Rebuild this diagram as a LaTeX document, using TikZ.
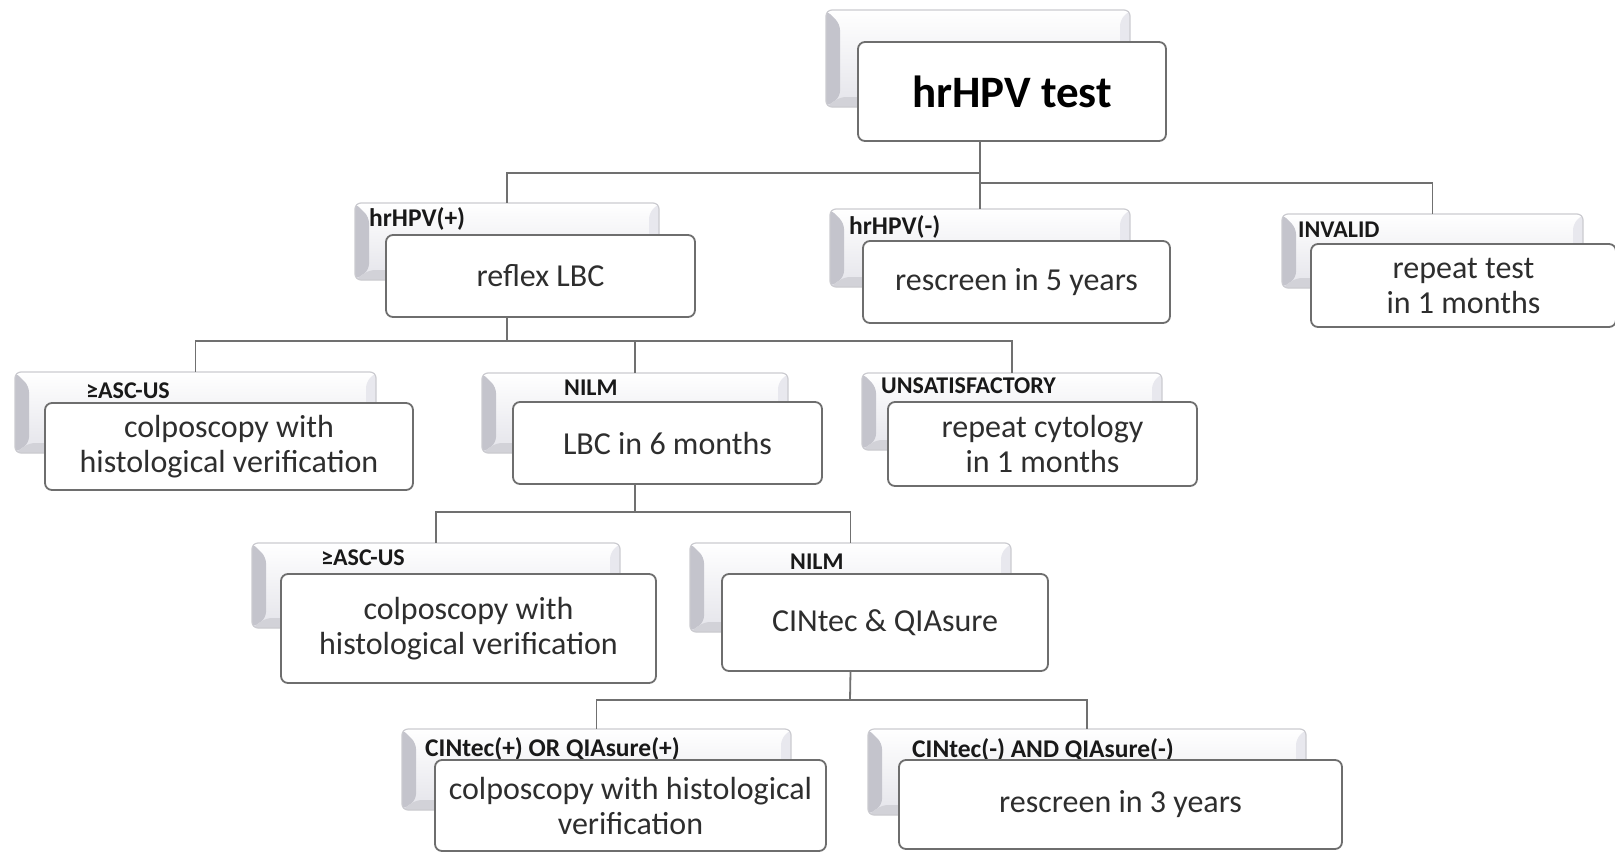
\documentclass[tikz,border=0pt]{standalone}
\usepackage{fontspec}
\setmainfont{Carlito}
\definecolor{linec}{HTML}{707070}
\definecolor{frontb}{HTML}{6E6E6E}
\definecolor{backb}{HTML}{CBCBD0}
\definecolor{backlo}{HTML}{E4E4EA}
\definecolor{bevL}{HTML}{C4C4CC}
\definecolor{bevB}{HTML}{D2D2D8}
\definecolor{bevR}{HTML}{E8E8EE}
\definecolor{txt}{HTML}{2E2E2E}
\tikzset{
 conn/.style={draw=linec, line width=1.8pt},
 backbox/.style={rectangle, rounded corners=6pt, draw=backb, line width=1.2pt,
   top color=white, bottom color=backlo, inner sep=0pt, outer sep=0pt,
   path picture={
     \fill[bevL] (path picture bounding box.north west)
        -- ([shift={(14pt,-14pt)}]path picture bounding box.north west)
        -- ([shift={(14pt,10pt)}]path picture bounding box.south west)
        -- (path picture bounding box.south west) -- cycle;
     \fill[bevB] (path picture bounding box.south west)
        -- ([shift={(14pt,10pt)}]path picture bounding box.south west)
        -- ([shift={(-10pt,10pt)}]path picture bounding box.south east)
        -- (path picture bounding box.south east) -- cycle;
     \fill[bevR] (path picture bounding box.south east)
        -- ([shift={(-10pt,10pt)}]path picture bounding box.south east)
        -- ([shift={(-10pt,-10pt)}]path picture bounding box.north east)
        -- (path picture bounding box.north east) -- cycle;
   }},
 frontbox/.style={rectangle, rounded corners=7pt, draw=frontb, line width=1.8pt,
   fill=white, inner sep=0pt, outer sep=0pt, align=center, text=txt,
   font=\fontsize{32}{35}\selectfont},
 lbl/.style={anchor=west, inner sep=0pt, font=\bfseries\fontsize{24}{26}\selectfont, text=black!90},
 biglbl/.style={lbl, font=\bfseries\fontsize{25.5}{27}\selectfont},
}
\newcommand\mkback[5]{%
 \pgfmathsetmacro\mkW{#4-#2}\pgfmathsetmacro\mkH{#5-#3}%
 \pgfmathsetmacro\mkX{(#2+#4)/2}\pgfmathsetmacro\mkY{(#3+#5)/2}%
 \node[backbox, minimum width=\mkW pt, minimum height=\mkH pt] (#1) at (\mkX,\mkY) {};}
\newcommand\mkfront[7][]{%
 \pgfmathsetmacro\mkW{#5-#3}\pgfmathsetmacro\mkH{#6-#4}%
 \pgfmathsetmacro\mkX{(#3+#5)/2}\pgfmathsetmacro\mkY{(#4+#6)/2}%
 \node[frontbox, minimum width=\mkW pt, minimum height=\mkH pt, #1] (#2) at (\mkX,\mkY) {#7};}
\begin{document}
\begin{tikzpicture}[x=1pt,y=-1pt]
\useasboundingbox (0,0) rectangle (1615,852);
% junctions
\coordinate (j1L) at (980,173);
\coordinate (j1R) at (980,183);
\coordinate (j2) at (507,341);
\coordinate (j3) at (635,512);
\coordinate (j4) at (850,700);
% boxes (back)
\mkback{topB}{826}{10}{1130}{107}
\mkback{posB}{355}{203}{659}{280}
\mkback{negB}{830}{209}{1130}{287}
\mkback{invB}{1282}{214}{1583}{288}
\mkback{ascB}{15}{372}{376}{453}
\mkback{nilmB}{482}{373}{788}{453}
\mkback{unsB}{862}{373}{1162}{450}
\mkback{asciiB}{252}{543}{620}{628}
\mkback{nilmiiB}{690}{543}{1011}{632}
\mkback{cposB}{402}{729}{791}{810}
\mkback{cnegB}{868}{729}{1306}{815}
% labels
\node[biglbl] (posL) at (369,219) {hrHPV(+)};
\node[biglbl] (negL) at (849,227) {hrHPV(-)};
\node[lbl] (invL) at (1298,230) {INVALID};
\node[lbl] (ascL) at (86,391) {≥ASC-US};
\node[lbl] (nilmL) at (564,388) {NILM};
\node[lbl] (unsL) at (881,386) {UNSATISFACTORY};
\node[lbl] (asciiL) at (321,558) {≥ASC-US};
\node[lbl] (nilmiiL) at (790,562) {NILM};
\node[biglbl] (cposL) at (425,749) {CINtec(+) OR QIAsure(+)};
\node[biglbl] (cnegL) at (912,750) {CINtec(-) AND QIAsure(-)};
% front boxes
\mkfront[font=\bfseries\fontsize{45}{50}\selectfont, text=black]{topF}{858}{42}{1166}{141}{hrHPV test}
\mkfront{posF}{386}{235}{695}{317}{reflex LBC}
\mkfront{negF}{863}{241}{1170}{323}{rescreen in 5 years}
\mkfront{invF}{1311}{244}{1616}{327}{repeat test\\in 1 months}
\mkfront{ascF}{45}{403}{413}{490}{colposcopy with\\histological verification}
\mkfront{nilmF}{513}{402}{822}{484}{LBC in 6 months}
\mkfront{unsF}{888}{402}{1197}{486}{repeat cytology\\in 1 months}
\mkfront{asciiF}{281}{574}{656}{683}{colposcopy with\\histological verification}
\mkfront{nilmiiF}{722}{574}{1048}{671}{CINtec \& QIAsure}
\mkfront{cposF}{435}{760}{826}{851}{colposcopy with histological\\verification}
\mkfront{cnegF}{899}{760}{1342}{849}{rescreen in 3 years}
% connectors
\draw[conn] (topF.south -| negB.north) -- (negB.north);
\draw[conn] (j1L) -| (posB.north);
\draw[conn] (j1R) -| (invB.north);
\draw[conn] (posF.south -| posB.north) -- (j2);
\draw[conn] (j2) -| (ascB.north);
\draw[conn] (j2) -| (nilmB.north);
\draw[conn] (j2) -| (unsB.north);
\draw[conn] (nilmF.south -| nilmB.north) -- (j3);
\draw[conn] (j3) -| (asciiB.north);
\draw[conn] (j3) -| (nilmiiB.north);
\draw[conn] (nilmiiF.south -| nilmiiB.north) -- (j4);
\draw[conn] (j4) -| (cposB.north);
\draw[conn] (j4) -| (cnegB.north);
\end{tikzpicture}
\end{document}
